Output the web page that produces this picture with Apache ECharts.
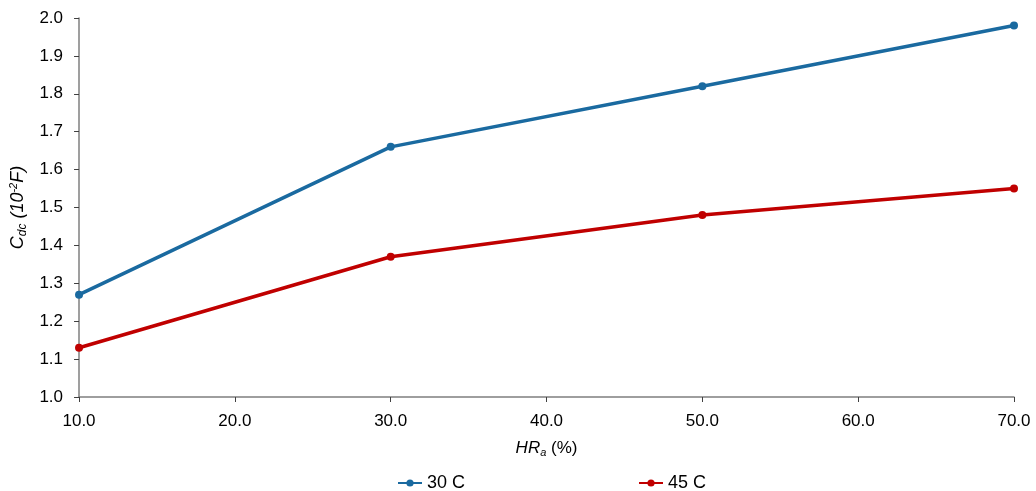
<!DOCTYPE html>
<html>
<head>
<meta charset="utf-8">
<script src="https://cdn.jsdelivr.net/npm/echarts@6/dist/echarts.min.js"></script>
<style>html,body{margin:0;padding:0;background:#fff}#c{width:1036px;height:491px}</style>
</head>
<body>
<div id="c"></div>
<script>
const hr = [10, 30, 50, 70];
const s30 = [1.27, 1.66, 1.82, 1.98];
const s45 = [1.13, 1.37, 1.48, 1.55];
const seriesNames = ['30 C', '45 C'];
const colors = ['#1A6AA0', '#C00000'];

const chart = echarts.init(document.getElementById('c'));
const font = 'Liberation Sans, Arial, sans-serif';
function mk(name, vals, color) {
  return {
    name: name, type: 'line', data: hr.map((x, i) => [x, vals[i]]),
    symbol: 'circle', symbolSize: 8,
    lineStyle: { color: color, width: 3.5 },
    itemStyle: { color: color }
  };
}
chart.setOption({
  animation: false,
  grid: { left: 78, right: 22, top: 18, bottom: 94 },
  legend: [
    { data: [seriesNames[0]], left: 392, top: 469, itemWidth: 24, itemHeight: 9, itemGap: 5,
      textStyle: { fontFamily: font, fontSize: 18, color: '#000' } },
    { data: [seriesNames[1]], left: 633, top: 469, itemWidth: 24, itemHeight: 9,
      textStyle: { fontFamily: font, fontSize: 18, color: '#000' } }
  ],
  xAxis: {
    type: 'value', min: 10, max: 70, interval: 10,
    name: '{i|HR}{s|a}{n| (%)}', nameLocation: 'middle', nameGap: 41,
    nameTextStyle: { rich: {
      i: { fontFamily: font, fontSize: 17, fontStyle: 'italic', color: '#000' },
      s: { fontFamily: font, fontSize: 11, fontStyle: 'italic', color: '#000', padding: [9, 0, 0, 0] },
      n: { fontFamily: font, fontSize: 17, color: '#000' }
    } },
    axisLine: { lineStyle: { color: '#7f7f7f', width: 1.5 } },
    axisTick: { show: true, inside: false, length: 5, lineStyle: { color: '#404040' } },
    splitLine: { show: false },
    axisLabel: { fontFamily: font, fontSize: 17, color: '#000', margin: 16, formatter: v => v.toFixed(1) }
  },
  yAxis: {
    type: 'value', min: 1.0, max: 2.0, interval: 0.1,
    name: '{i|C}{s|dc}{i| (10}{p|-2}{i|F)}', nameLocation: 'middle', nameGap: 40, nameRotate: 90,
    nameTextStyle: { rich: {
      i: { fontFamily: font, fontSize: 18, fontStyle: 'italic', color: '#000' },
      s: { fontFamily: font, fontSize: 12, fontStyle: 'italic', color: '#000', padding: [9, 0, 0, 0] },
      p: { fontFamily: font, fontSize: 11, fontStyle: 'italic', color: '#000', padding: [0, 0, 9, 0] }
    } },
    axisLine: { show: true, lineStyle: { color: '#7f7f7f', width: 1.5 } },
    axisTick: { show: true, inside: false, length: 5, lineStyle: { color: '#404040' } },
    splitLine: { show: false },
    axisLabel: { fontFamily: font, fontSize: 17, color: '#000', margin: 16, formatter: v => v.toFixed(1) }
  },
  series: [mk(seriesNames[0], s30, colors[0]), mk(seriesNames[1], s45, colors[1])]
});
</script>
</body>
</html>
